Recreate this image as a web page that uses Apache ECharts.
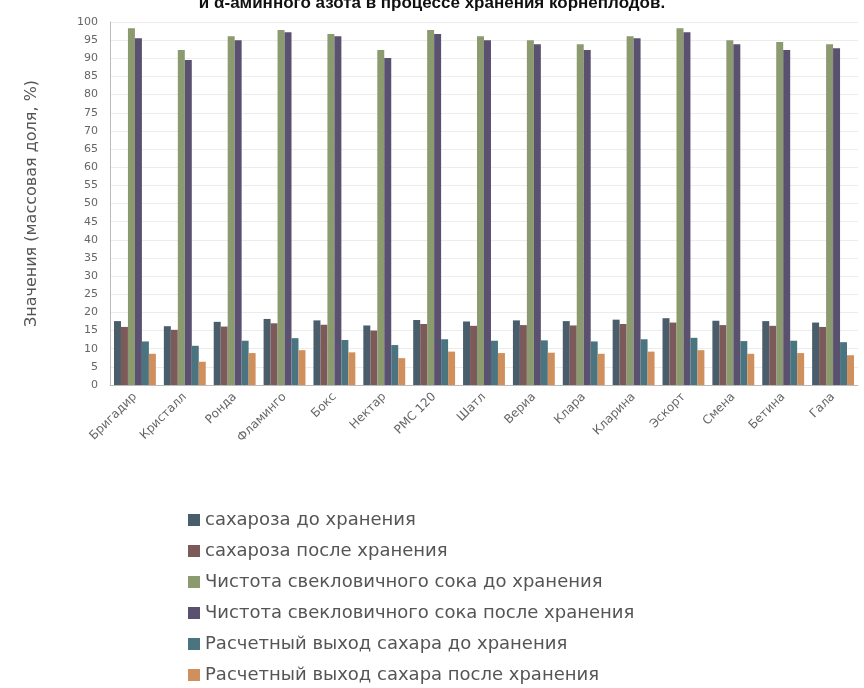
<!DOCTYPE html>
<html>
<head>
<meta charset="utf-8">
<script src="https://cdn.jsdelivr.net/npm/echarts@6/dist/echarts.min.js"></script>
<style>
  html, body { margin: 0; padding: 0; background: #fff; }
  #barChart { width: 864px; height: 688px; }
</style>
</head>
<body>
<div id="barChart"></div>
<script>
// гибриды (подписи оси X)
var categories = ['Бригадир', 'Кристалл', 'Ронда', 'Фламинго', 'Бокс', 'Нектар', 'РМС 120', 'Шатл',
  'Вериа', 'Клара', 'Кларина', 'Эскорт', 'Смена', 'Бетина', 'Гала'];

var seriesNames = ['сахароза до хранения', 'сахароза после хранения',
  'Чистота свекловичного сока до хранения', 'Чистота свекловичного сока после хранения',
  'Расчетный выход сахара до хранения', 'Расчетный выход сахара после хранения'];

var sugarBefore = [17.6, 16.2, 17.4, 18.2, 17.8, 16.4, 17.9, 17.5, 17.8, 17.6, 18.0, 18.4, 17.7, 17.6, 17.2];
var sugarAfter = [16.0, 15.2, 16.1, 17.0, 16.6, 15.0, 16.8, 16.3, 16.5, 16.4, 16.8, 17.2, 16.5, 16.3, 16.0];
var purityBefore = [98.3, 92.3, 96.1, 97.8, 96.7, 92.3, 97.8, 96.1, 95.0, 93.9, 96.1, 98.3, 95.0, 94.5, 93.9];
var purityAfter = [95.5, 89.5, 95.0, 97.2, 96.1, 90.1, 96.7, 95.0, 93.9, 92.3, 95.5, 97.2, 93.9, 92.3, 92.8];
var yieldBefore = [12.0, 10.8, 12.2, 12.9, 12.4, 11.0, 12.6, 12.2, 12.3, 12.0, 12.6, 13.0, 12.1, 12.2, 11.8];
var yieldAfter = [8.6, 6.4, 8.8, 9.6, 9.0, 7.4, 9.2, 8.8, 8.9, 8.6, 9.2, 9.6, 8.6, 8.8, 8.2];

var yTicks = { min: 0, max: 100, step: 5 };

var colors = ['#4a5d6b', '#7d5a5a', '#8c9a70', '#5a5070', '#4a7580', '#d0905e'];

var allData = [sugarBefore, sugarAfter, purityBefore, purityAfter, yieldBefore, yieldAfter];

var chart = echarts.init(document.getElementById('barChart'));

var series = allData.map(function (d, i) {
  return {
    name: seriesNames[i],
    type: 'bar',
    barGap: '0%',
    barCategoryGap: '16%',
    itemStyle: { color: colors[i] },
    data: d
  };
});

var option = {
  animation: false,
  color: colors,
  title: {
    text: 'и α-аминного азота в процессе хранения корнеплодов.',
    left: 'center',
    top: -10,
    textStyle: {
      fontFamily: 'Liberation Sans',
      fontWeight: 'bold',
      fontSize: 17,
      color: '#111'
    }
  },
  grid: {
    left: 110,
    right: 6,
    top: 22,
    bottom: 303
  },
  legend: {
    orient: 'vertical',
    left: 188,
    top: 511,
    height: 180,
    padding: 0,
    itemWidth: 12,
    itemHeight: 12,
    itemGap: 13,
    icon: 'rect',
    data: seriesNames,
    textStyle: {
      fontFamily: 'DejaVu Sans',
      fontSize: 18,
      color: '#555'
    }
  },
  xAxis: {
    type: 'category',
    data: categories,
    axisTick: { show: false },
    axisLine: { lineStyle: { color: '#bbb' } },
    axisLabel: {
      rotate: 45,
      interval: 0,
      margin: 10,
      fontFamily: 'DejaVu Sans',
      fontSize: 12,
      color: '#666'
    }
  },
  yAxis: {
    type: 'value',
    min: yTicks.min,
    max: yTicks.max,
    interval: yTicks.step,
    name: 'Значения (массовая доля, %)',
    nameLocation: 'middle',
    nameGap: 70,
    nameTextStyle: {
      fontFamily: 'DejaVu Sans',
      fontSize: 16,
      color: '#555'
    },
    axisLine: { show: true, lineStyle: { color: '#bbb' } },
    axisTick: { show: false },
    splitLine: { lineStyle: { color: '#ececec' } },
    axisLabel: {
      fontFamily: 'DejaVu Sans',
      fontSize: 11,
      color: '#666',
      margin: 12
    }
  },
  series: series
};

chart.setOption(option);
</script>
</body>
</html>
